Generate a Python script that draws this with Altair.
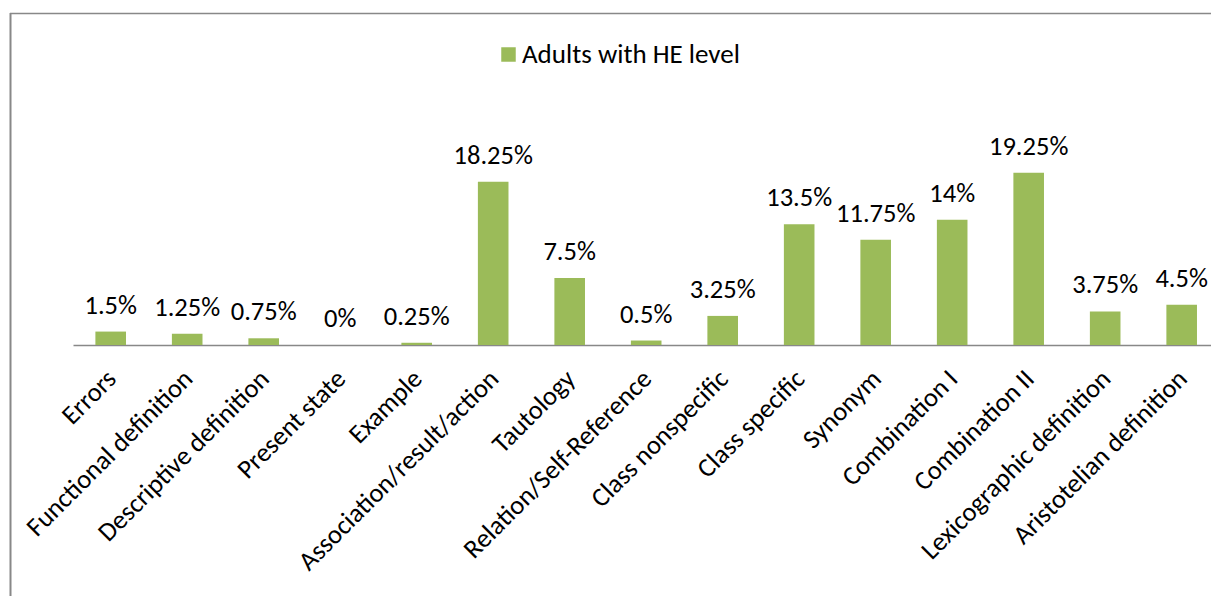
import altair as alt
import pandas as pd

categories = ["Errors", "Functional definition", "Descriptive definition", "Present state",
              "Example", "Association/result/action", "Tautology", "Relation/Self-Reference",
              "Class nonspecific", "Class specific", "Synonym", "Combination I",
              "Combination II", "Lexicographic definition", "Aristotelian definition"]
values = [1.5, 1.25, 0.75, 0, 0.25, 18.25, 7.5, 0.5, 3.25, 13.5, 11.75, 14, 19.25, 3.75, 4.5]
series_name = "Adults with HE level"

df = pd.DataFrame({
    "cat": categories,
    "val": values,
    "label": [f"{v:g}%" for v in values],
    "series": [series_name] * len(values),
})

FONT = "Carlito, Calibri, Lato, sans-serif"
GREEN = "#9BBB59"
W, H = 1138, 331
FS = 26.5

x_enc = alt.X("cat:N", sort=categories, title=None,
              scale=alt.Scale(paddingInner=0.6, paddingOuter=0.238, align=0.615),
              axis=alt.Axis(labelAngle=-45, labelAlign="right", labelBaseline="alphabetic",
                            labelFontSize=FS, labelFont=FONT, labelColor="#000000",
                            labelPadding=35, labelOffset=7, ticks=False, domainColor="#888888",
                            domainWidth=1.5, labelOverlap=False, labelLimit=500))
y_enc = alt.Y("val:Q", title=None, axis=None, scale=alt.Scale(domain=[0, H / 8.95], nice=False))

base = alt.Chart(df)

bars = base.mark_bar(color=GREEN).encode(
    x=x_enc, y=y_enc,
    color=alt.Color("series:N", scale=alt.Scale(range=[GREEN]),
                    legend=alt.Legend(title=None, orient="none", legendX=422, legendY=27,
                                      symbolType="square", symbolSize=210, symbolStrokeWidth=0,
                                      labelFontSize=27, labelFont=FONT, labelColor="#000000",
                                      labelOffset=0, symbolOpacity=1, labelLimit=500)),
)

texts = base.mark_text(fontSize=FS, font=FONT, color="#000000", baseline="alphabetic",
                       dy=-18).encode(
    x=alt.X("cat:N", sort=categories), y=alt.Y("val:Q"), text="label:N")

frame_df = pd.DataFrame({"k": [0]})
top_rule = alt.Chart(frame_df).mark_rule(color="#888888", strokeWidth=1.5).encode(
    x=alt.value(-63), x2=alt.value(W + 10), y=alt.value(-0.5))
left_rule = alt.Chart(frame_df).mark_rule(color="#888888", strokeWidth=2).encode(
    x=alt.value(-62.5), y=alt.value(-1), y2=alt.value(H + 300))

chart = alt.layer(bars, texts, top_rule, left_rule).properties(
    width=W, height=H,
    autosize=alt.AutoSizeParams(type="none"),
    padding={"left": 73, "top": 14, "right": 0, "bottom": 251},
).configure_view(stroke=None)

chart.save("out.html", embed_options={"renderer": "svg", "actions": False})
